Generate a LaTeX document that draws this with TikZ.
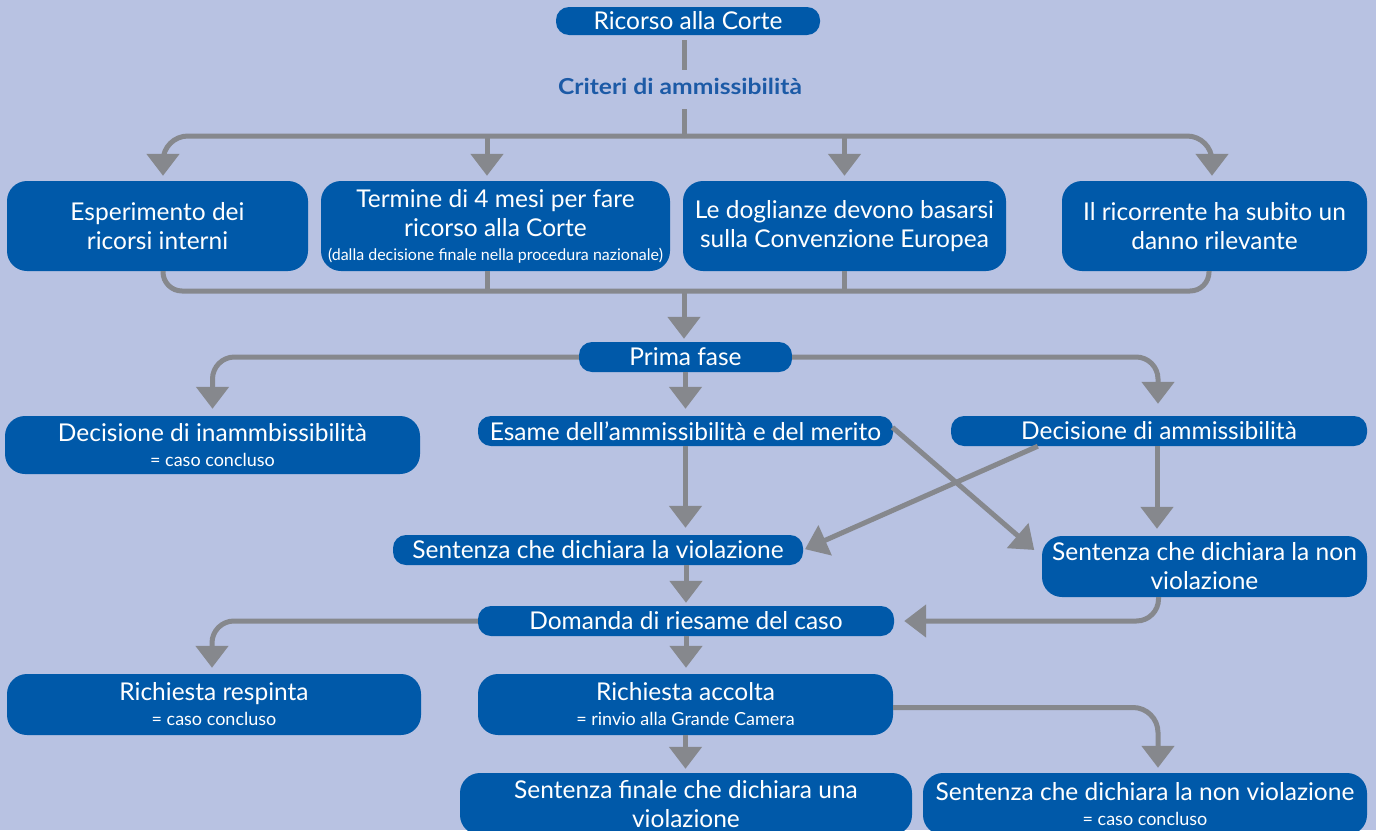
\documentclass[tikz,border=0pt]{standalone}
\usepackage{fontspec}
\setmainfont{Lato}
\newfontfamily\critfont{Lato}[FakeStretch=1.12]
\usetikzlibrary{arrows.meta}
\definecolor{bg}{HTML}{B8C2E2}
\definecolor{boxblue}{HTML}{0059A9}
\definecolor{conncol}{HTML}{86888D}
\definecolor{titleblue}{HTML}{1C5AA6}
\newcommand{\smalltxt}{\fontsize{18}{21}\selectfont}
\newcommand{\tinytxt}{\fontsize{16}{19}\selectfont}
\begin{document}
\begin{tikzpicture}[x=1pt,y=-1pt,
  box/.style={fill=boxblue, text=white, rounded corners=13pt, inner sep=0pt, align=center,
    font=\fontsize{24.5}{29}\selectfont},
  tallbox/.style={box, rounded corners=20pt},
  conn/.style={draw=conncol, line width=5pt},
  arr/.style={conn, -{Triangle[width=32pt,length=22pt]}, shorten >=5pt}
]
\clip (0,0) rectangle (1376,830);
\fill[bg] (0,0) rectangle (1376,830);

% nodes
\node[box, minimum width=264pt, minimum height=28pt] (ricorso) at (688,21) {Ricorso alla Corte};
\node[text=titleblue, font=\critfont\bfseries\fontsize{22}{26}\selectfont, inner sep=0pt, text height=16pt, text depth=0pt] (crit) at (680,86) {Criteri di ammissibilità};
\coordinate (split) at (684,136);
\coordinate (merge) at (684,291);

\node[tallbox, minimum width=301pt, minimum height=90pt] (b1) at (157.5,226) {Esperimento dei\\ricorsi interni};
\node[tallbox, minimum width=349pt, minimum height=90pt] (b2) at (495.5,226) {Termine di 4 mesi per fare\\ricorso alla Corte\\[-5pt]{\tinytxt (dalla decisione finale nella procedura nazionale)}};
\node[tallbox, minimum width=323pt, minimum height=90pt] (b3) at (844.5,226) {Le doglianze devono basarsi\\sulla Convenzione Europea};
\node[tallbox, minimum width=305pt, minimum height=90pt] (b4) at (1214.5,226) {Il ricorrente ha subito un\\danno rilevante};

\node[box, minimum width=213pt, minimum height=30pt] (prima) at (685.5,357) {Prima fase};
\node[tallbox, minimum width=415pt, minimum height=58pt] (dinam) at (212.5,445) {Decisione di inammbissibilità\\[-4pt]{\smalltxt = caso concluso}};
\node[box, minimum width=415pt, minimum height=30pt] (esame) at (685.5,431) {Esame dell’ammissibilità e del merito};
\node[box, minimum width=416pt, minimum height=30pt] (damm) at (1159,431) {Decisione di ammissibilità};
\node[box, minimum width=410pt, minimum height=30pt] (sviol) at (598,550) {Sentenza che dichiara la violazione};
\node[tallbox, minimum width=325pt, minimum height=61pt] (snv) at (1204.5,566.5) {Sentenza che dichiara la non\\violazione};
\node[box, minimum width=416pt, minimum height=30pt] (domanda) at (686,621) {Domanda di riesame del caso};
\node[tallbox, minimum width=414pt, minimum height=61pt] (resp) at (214,704.5) {Richiesta respinta\\[-4pt]{\smalltxt = caso concluso}};
\node[tallbox, minimum width=415pt, minimum height=61pt] (accolta) at (685.5,704.5) {Richiesta accolta\\[-4pt]{\smalltxt = rinvio alla Grande Camera}};
\node[tallbox, minimum width=452pt, minimum height=62pt] (finale) at (686,804) {Sentenza finale che dichiara una\\violazione};
\node[tallbox, minimum width=444pt, minimum height=62pt] (fnv) at (1145,804) {Sentenza che dichiara la non violazione\\[-4pt]{\smalltxt = caso concluso}};

% top connectors
\draw[conn, shorten <=5pt, shorten >=8pt] (ricorso.south -| split) -- (crit.north -| split);
\draw[conn, shorten <=15pt] (crit.south -| split) -- (split);
\draw[arr, rounded corners=25pt] (split) -| ([xshift=5.5pt]b1.north);
\draw[arr, rounded corners=25pt] (split) -| ([xshift=-2.5pt]b4.north);
\draw[arr] ([xshift=-8.5pt]b2.north |- split) -- ([xshift=-8.5pt]b2.north);
\draw[arr] (b3.north |- split) -- (b3.north);

% merge
\draw[conn, rounded corners=19pt] ([xshift=5.5pt]b1.south) |- (merge) -| ([xshift=-5.5pt]b4.south);
\draw[conn] ([xshift=-8.5pt]b2.south) -- ([xshift=-8.5pt]b2.south |- merge);
\draw[conn] (b3.south) -- (b3.south |- merge);
\draw[arr, shorten >=3pt] (merge) -- (prima.north -| merge);

% prima fase
\draw[arr, rounded corners=22pt, shorten >=7pt] (prima.west) -| (dinam.north);
\draw[arr, rounded corners=22pt, shorten >=12pt] (prima.east) -| ([xshift=-1pt]damm.north);
\draw[arr, shorten >=7pt] (prima.south) -- (esame.north);

\draw[arr, shorten >=7pt] (esame.south) -- (esame.south |- sviol.north);
\draw[arr, shorten >=7pt] ([xshift=-2pt]damm.south) -- ([xshift=-2pt]damm.south |- snv.north);
\draw[arr, shorten <=-1pt, shorten >=10pt] ([yshift=3pt]esame.east) -- ([yshift=10pt]snv.west);
\draw[arr, shorten >=2pt] ([xshift=87pt]damm.south west) -- (sviol.east);

\draw[arr, shorten >=3pt] (sviol.south -| domanda.north) -- (domanda.north);
\draw[arr, rounded corners=22pt, shorten >=10pt] ([xshift=-46pt]snv.south) |- (domanda.east);

% domanda
\draw[arr, rounded corners=22pt, shorten >=6pt] (domanda.west) -| ([xshift=-2pt]resp.north);
\draw[arr, shorten >=6pt] (domanda.south) -- (domanda.south |- accolta.north);
\draw[arr, shorten >=4pt] (accolta.south) -- (accolta.south |- finale.north);
\draw[arr, rounded corners=25pt, shorten >=5pt] ([yshift=-3pt]accolta.east) -| ([xshift=13pt]fnv.north);
\end{tikzpicture}
\end{document}
